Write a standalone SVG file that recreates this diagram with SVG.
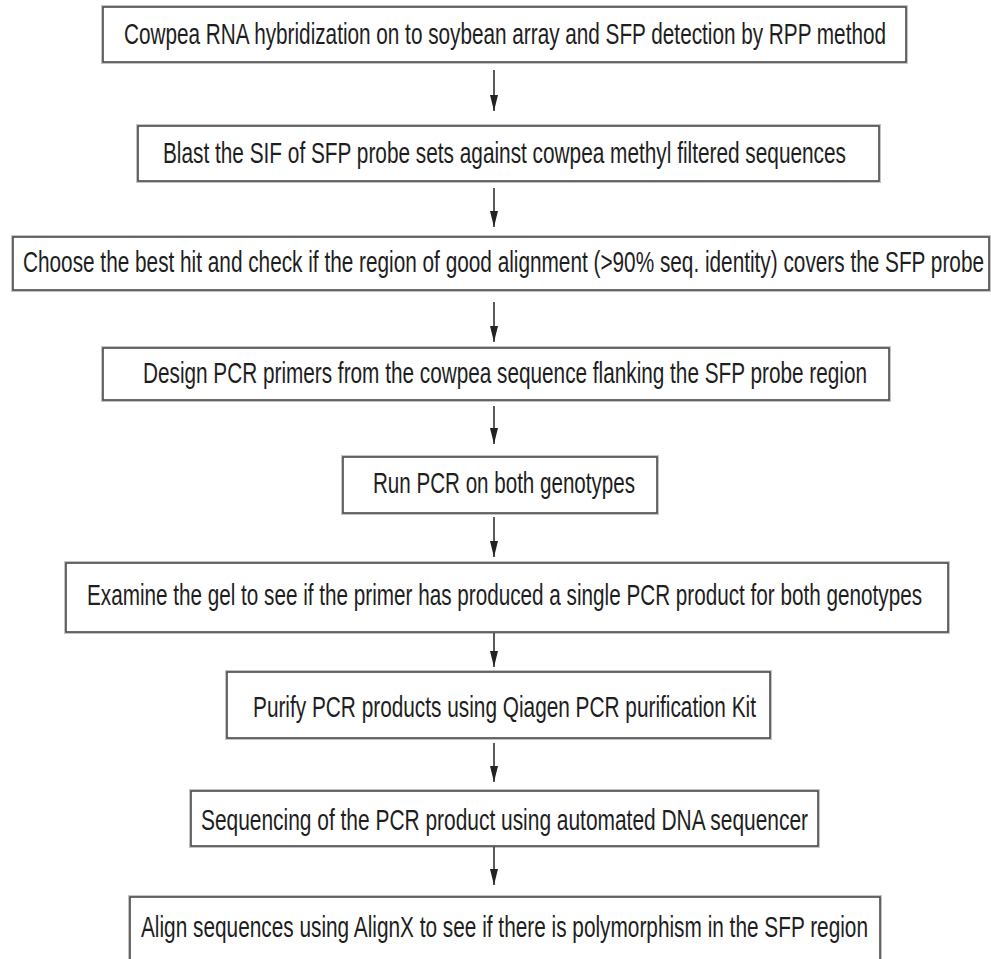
<svg xmlns="http://www.w3.org/2000/svg" width="991" height="959" viewBox="0 0 991 959">
<style>
.bg{fill:#fff}
.halo{fill:none;stroke:#c4c4c4;stroke-width:4}
.box{fill:#fff;stroke:#4a4a4a;stroke-width:1.6}
.t{font-family:"Liberation Sans",Arial,sans-serif;font-size:20px;fill:#1e1e1e}
.c{stroke:#333;stroke-width:1.6;fill:none}
</style>
<defs>
<marker id="ah" viewBox="0 0 16 8" refX="16" refY="4" markerWidth="16" markerHeight="8" orient="auto" markerUnits="userSpaceOnUse">
<path d="M0,0 L16,4 L0,8 z" fill="#222"/>
</marker>
</defs>
<rect class="bg" x="0" y="0" width="991" height="959"/>
<g id="n1"><rect class="halo" x="103" y="7" width="803" height="55"/><rect class="box" x="103" y="7" width="803" height="55"/><text class="t" x="124" y="0" transform="translate(0,44) scale(1,1.45)" textLength="762" lengthAdjust="spacingAndGlyphs">Cowpea RNA hybridization on to soybean array and SFP detection by RPP method</text></g>
<g id="n2"><rect class="halo" x="138" y="126" width="741" height="55"/><rect class="box" x="138" y="126" width="741" height="55"/><text class="t" x="163" y="0" transform="translate(0,163) scale(1,1.45)" textLength="683" lengthAdjust="spacingAndGlyphs">Blast the SIF of SFP probe sets against cowpea methyl filtered sequences</text></g>
<g id="n3"><rect class="halo" x="13" y="237" width="976" height="53"/><rect class="box" x="13" y="237" width="976" height="53"/><text class="t" x="23" y="0" transform="translate(0,272) scale(1,1.45)" textLength="961" lengthAdjust="spacingAndGlyphs">Choose the best hit and check if the region of good alignment (&gt;90% seq. identity) covers the SFP probe</text></g>
<g id="n4"><rect class="halo" x="103" y="348" width="786" height="52"/><rect class="box" x="103" y="348" width="786" height="52"/><text class="t" x="143" y="0" transform="translate(0,383) scale(1,1.45)" textLength="724" lengthAdjust="spacingAndGlyphs">Design PCR primers from the cowpea sequence flanking the SFP probe region</text></g>
<g id="n5"><rect class="halo" x="343" y="457" width="314" height="56"/><rect class="box" x="343" y="457" width="314" height="56"/><text class="t" x="373" y="0" transform="translate(0,493) scale(1,1.45)" textLength="262" lengthAdjust="spacingAndGlyphs">Run PCR on both genotypes</text></g>
<g id="n6"><rect class="halo" x="66" y="563" width="882" height="69"/><rect class="box" x="66" y="563" width="882" height="69"/><text class="t" x="87" y="0" transform="translate(0,605) scale(1,1.45)" textLength="835" lengthAdjust="spacingAndGlyphs">Examine the gel to see if the primer has produced a single PCR product for both genotypes</text></g>
<g id="n7"><rect class="halo" x="227" y="672" width="543" height="66"/><rect class="box" x="227" y="672" width="543" height="66"/><text class="t" x="253" y="0" transform="translate(0,717) scale(1,1.45)" textLength="503" lengthAdjust="spacingAndGlyphs">Purify PCR products using Qiagen PCR purification Kit</text></g>
<g id="n8"><rect class="halo" x="191" y="791" width="627" height="55"/><rect class="box" x="191" y="791" width="627" height="55"/><text class="t" x="201" y="0" transform="translate(0,830) scale(1,1.45)" textLength="607" lengthAdjust="spacingAndGlyphs">Sequencing of the PCR product using automated DNA sequencer</text></g>
<g id="n9"><rect class="halo" x="130" y="897" width="750" height="90"/><rect class="box" x="130" y="897" width="750" height="90"/><text class="t" x="141" y="0" transform="translate(0,937) scale(1,1.45)" textLength="727" lengthAdjust="spacingAndGlyphs">Align sequences using AlignX to see if there is polymorphism in the SFP region</text></g>
<g id="connectors">
<line class="c" x1="494" y1="70" x2="494" y2="111" marker-end="url(#ah)"/>
<line class="c" x1="494" y1="188" x2="494" y2="227" marker-end="url(#ah)"/>
<line class="c" x1="494" y1="302" x2="494" y2="342" marker-end="url(#ah)"/>
<line class="c" x1="494" y1="406" x2="494" y2="444" marker-end="url(#ah)"/>
<line class="c" x1="494" y1="517" x2="494" y2="557" marker-end="url(#ah)"/>
<line class="c" x1="494" y1="633" x2="494" y2="667" marker-end="url(#ah)"/>
<line class="c" x1="494" y1="743" x2="494" y2="782" marker-end="url(#ah)"/>
<line class="c" x1="494" y1="847" x2="494" y2="885" marker-end="url(#ah)"/>
</g>
</svg>
